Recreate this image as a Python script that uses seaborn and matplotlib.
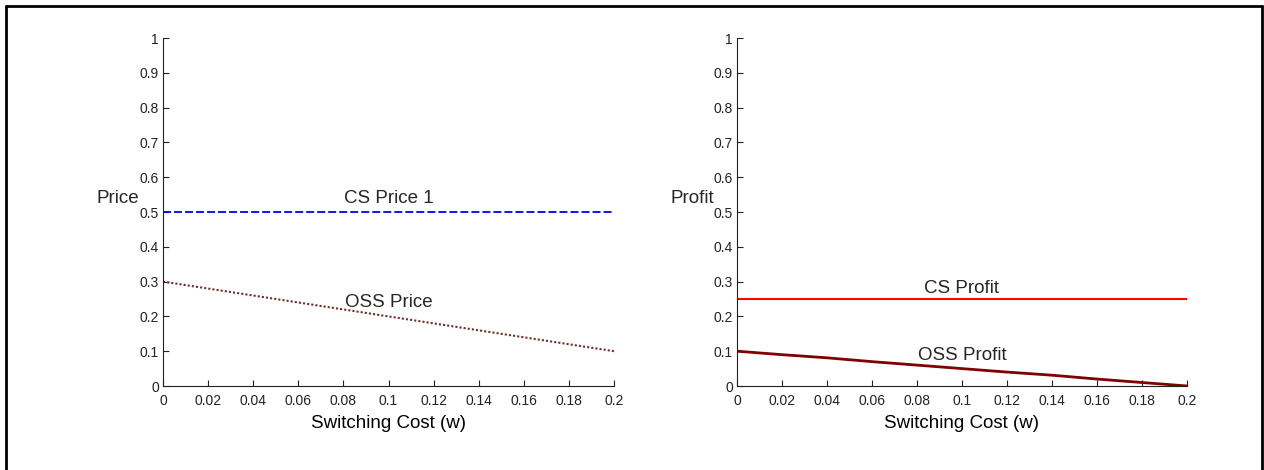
import numpy as np
import pandas as pd
import matplotlib
matplotlib.use('Agg')
import matplotlib.pyplot as plt
import seaborn as sns

# values
w = [0.0, 0.02, 0.04, 0.06, 0.08, 0.10, 0.12, 0.14, 0.16, 0.18, 0.20]
cs_price = [0.5] * 11
oss_price = [0.30, 0.28, 0.26, 0.24, 0.22, 0.20, 0.18, 0.16, 0.14, 0.12, 0.10]
cs_profit = [0.25] * 11
oss_profit = [0.100, 0.090, 0.081, 0.070, 0.060, 0.050, 0.040, 0.031, 0.020, 0.010, 0.0]

xticks = [0, 0.02, 0.04, 0.06, 0.08, 0.1, 0.12, 0.14, 0.16, 0.18, 0.2]
xlabels = ['0', '0.02', '0.04', '0.06', '0.08', '0.1', '0.12', '0.14', '0.16', '0.18', '0.2']
yticks = [0, 0.1, 0.2, 0.3, 0.4, 0.5, 0.6, 0.7, 0.8, 0.9, 1]
ylabels = ['0', '0.1', '0.2', '0.3', '0.4', '0.5', '0.6', '0.7', '0.8', '0.9', '1']

df = pd.DataFrame({'w': w, 'cs_price': cs_price, 'oss_price': oss_price,
                   'cs_profit': cs_profit, 'oss_profit': oss_profit})

sns.set_style('ticks')
plt.rcParams['font.family'] = ['Liberation Sans', 'DejaVu Sans']
plt.rcParams['xtick.direction'] = 'in'
plt.rcParams['ytick.direction'] = 'in'

fig = plt.figure(figsize=(12.64, 4.70), dpi=100)
ax1 = fig.add_axes([163/1264, 84/470, 451/1264, 348/470])
ax2 = fig.add_axes([737/1264, 84/470, 450/1264, 348/470])

sns.lineplot(data=df, x='w', y='cs_price', ax=ax1, color='#0000ff', linestyle=(0, (4.4, 1.7)), linewidth=1.3)
sns.lineplot(data=df, x='w', y='oss_price', ax=ax1, color='#7a2a2a', linestyle=(0, (1, 1)), linewidth=1.5)
sns.lineplot(data=df, x='w', y='cs_profit', ax=ax2, color='#ff0000', linewidth=1.5)
sns.lineplot(data=df, x='w', y='oss_profit', ax=ax2, color='#800000', linewidth=2)

for ax, lab in [(ax1, 'Price'), (ax2, 'Profit')]:
    ax.set_xlim(0, 0.2)
    ax.set_ylim(0, 1)
    ax.set_xticks(xticks)
    ax.set_xticklabels(xlabels)
    ax.set_yticks(yticks)
    ax.set_yticklabels(ylabels)
    ax.tick_params(labelsize=10, length=4, width=0.8, colors='#222222')
    ax.tick_params(axis='x', pad=6)
    ax.tick_params(axis='y', pad=3)
    ax.set_xlabel('Switching Cost (w)', fontsize=13.5, labelpad=5, color='black')
    ax.set_ylabel('')
    ax.text(-0.1, 0.538, lab, transform=ax.transAxes, fontsize=13.5, ha='center', va='center')
    for s in ['top', 'right']:
        ax.spines[s].set_visible(False)
    for s in ['left', 'bottom']:
        ax.spines[s].set_color('#222222')
        ax.spines[s].set_linewidth(0.8)

ax1.text(0.1, 0.538, 'CS Price 1', fontsize=13.5, ha='center', va='center')
ax1.text(0.1, 0.240, 'OSS Price', fontsize=13.5, ha='center', va='center')
ax2.text(0.1, 0.279, 'CS Profit', fontsize=13.5, ha='center', va='center')
ax2.text(0.1, 0.087, 'OSS Profit', fontsize=13.5, ha='center', va='center')

# outer frame (bottom edge is cut off in the original)
fig.add_artist(plt.Line2D([6/1264, 6/1264], [0, 1 - 6/470], transform=fig.transFigure, color='black', linewidth=2))
fig.add_artist(plt.Line2D([6/1264, 1262/1264], [1 - 6/470, 1 - 6/470], transform=fig.transFigure, color='black', linewidth=2))
fig.add_artist(plt.Line2D([1262/1264, 1262/1264], [0, 1 - 6/470], transform=fig.transFigure, color='black', linewidth=2))

fig.savefig('out.png', dpi=100)
